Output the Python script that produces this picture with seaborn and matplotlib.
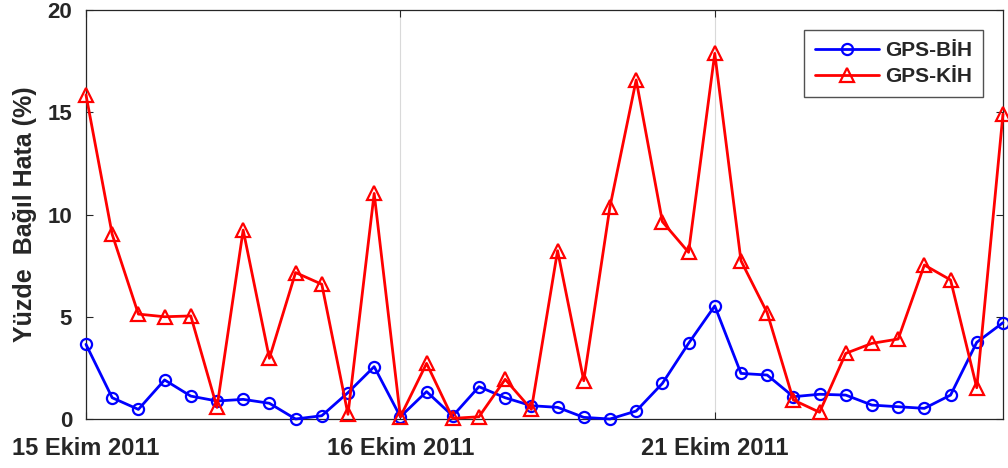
import numpy as np
import pandas as pd
import seaborn as sns
import matplotlib
matplotlib.use("Agg")
import matplotlib.pyplot as plt

# Data
gps_bih = [3.65, 1.04, 0.47, 1.91, 1.12, 0.88, 0.96, 0.77, 0.00, 0.16, 1.29, 2.56,
           0.11, 1.34, 0.15, 1.58, 1.04, 0.65, 0.57, 0.08, 0.00, 0.39, 1.74, 3.70,
           5.53, 2.23, 2.15, 1.09, 1.21, 1.17, 0.68, 0.60, 0.52, 1.17, 3.75, 4.71]
gps_kih = [15.85, 9.03, 5.13, 5.00, 5.04, 0.57, 9.24, 2.97, 7.16, 6.59, 0.23, 11.03,
           0.11, 2.72, 0.03, 0.11, 1.94, 0.47, 8.23, 1.87, 10.38, 16.58, 9.65, 8.15,
           17.88, 7.74, 5.20, 0.93, 0.33, 3.21, 3.70, 3.91, 7.53, 6.80, 1.53, 14.91]
tick_positions = [0, 12, 24]
tick_labels = ["15 Ekim 2011", "16 Ekim 2011", "21 Ekim 2011"]
y_ticks = [0, 5, 10, 15, 20]
series_names = ["GPS-BİH", "GPS-KİH"]

idx = np.arange(len(gps_bih))

sns.set_style("white")
plt.rcParams['font.family'] = ['Liberation Sans', 'DejaVu Sans']
plt.rcParams['font.weight'] = 'bold'
txt = "#262626"

fig = plt.figure(figsize=(10.08, 4.68), dpi=100)
ax = fig.add_axes([0.0853, 0.1047, 0.9097, 0.8739])

sns.lineplot(x=idx, y=gps_bih, ax=ax, color=(0, 0, 1), linewidth=2.0,
             marker='o', markersize=8, markerfacecolor='none',
             markeredgecolor=(0, 0, 1), markeredgewidth=1.6,
             label=series_names[0], clip_on=False, zorder=3)
sns.lineplot(x=idx, y=gps_kih, ax=ax, color=(1, 0, 0), linewidth=2.0,
             marker='^', markersize=9.5, markerfacecolor='none',
             markeredgecolor=(1, 0, 0), markeredgewidth=1.6,
             label=series_names[1], clip_on=False, zorder=4)

ax.set_xlim(0, len(idx) - 1)
ax.set_ylim(0, 20)
ax.set_xticks(tick_positions)
ax.set_xticklabels(tick_labels, fontsize=17, fontweight='bold', color=txt)
ax.set_yticks(y_ticks)
ax.set_yticklabels([str(v) for v in y_ticks], fontsize=16, fontweight='bold', color=txt)
ax.set_ylabel("Yüzde  Bağıl Hata (%)", fontsize=18, fontweight='bold', color=txt)
ax.yaxis.set_label_coords(-0.053, 0.5)
ax.set_xlabel("")

ax.grid(False)
for x in tick_positions:
    ax.axvline(x, color='#d9d9d9', linewidth=0.8, zorder=0)

ax.tick_params(axis='both', direction='in', length=5, width=0.8, color='#262626',
               top=True, right=True, bottom=True, left=True)
ax.tick_params(axis='x', pad=13)
ax.tick_params(axis='y', pad=10)
for s in ax.spines.values():
    s.set_visible(True)
    s.set_color('#262626')
    s.set_linewidth(0.9)

leg = ax.legend(loc='upper right', bbox_to_anchor=(0.978, 0.95), frameon=True,
                fancybox=False, edgecolor='#262626', fontsize=15,
                handlelength=3.1, borderpad=0.5, labelspacing=0.35, handletextpad=0.3,
                borderaxespad=0.0)
leg.get_frame().set_linewidth(1.0)
for t in leg.get_texts():
    t.set_fontweight('bold')
    t.set_color(txt)

fig.savefig("out.png", dpi=100)
